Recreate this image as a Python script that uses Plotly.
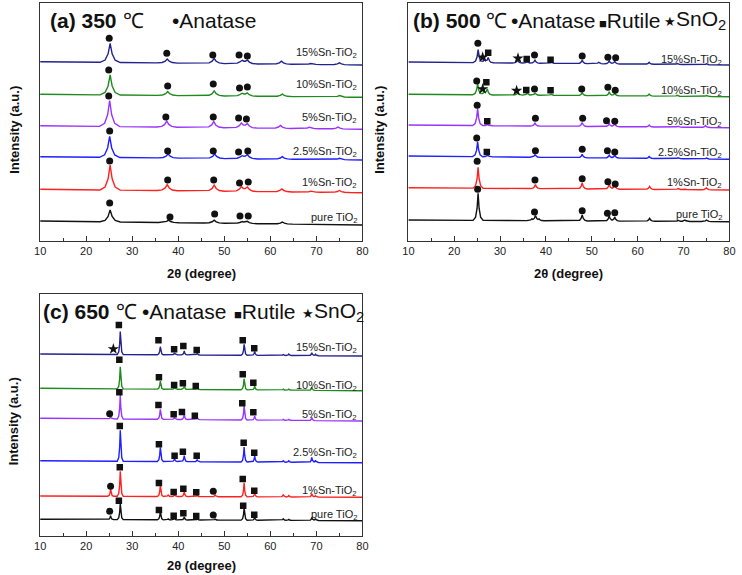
import numpy as np
import plotly.graph_objects as go

FONT = "Liberation Sans, Arial, sans-serif"

# ---------------- shared data ----------------
two_theta_range = [10, 80]
samples = ["15%Sn-TiO<sub>2</sub>", "10%Sn-TiO<sub>2</sub>", "5%Sn-TiO<sub>2</sub>",
           "2.5%Sn-TiO<sub>2</sub>", "1%Sn-TiO<sub>2</sub>", "pure TiO<sub>2</sub>"]
sample_colors = ["#23238f", "#1f8a1f", "#9933ff", "#1f1fff", "#ff2020", "#111111"]

# ---------------- (a) 350 C ----------------
a_base_start = [179.0, 146.4, 115.0, 84.0, 51.4, 19.7]
a_base_end = [175.7, 143.4, 111.4, 80.7, 48.0, 15.7]
a_peaks = [
    [(25.2, 19), (37.6, 4), (47.8, 5), (53.8, 3.5), (55.0, 3.5), (62.4, 3), (68.8, 1), (75.0, 2)],
    [(25.2, 20), (37.7, 4), (47.8, 5), (53.8, 3), (55.0, 3), (62.6, 2.5), (75.0, 1.5)],
    [(25.1, 26), (37.5, 6), (47.7, 6), (53.7, 4.5), (55.0, 4), (62.2, 3), (68.5, 1.5), (74.7, 2)],
    [(25.1, 21), (37.8, 4), (47.9, 4.5), (53.8, 3), (55.0, 4), (62.6, 2.5), (75.0, 1.5)],
    [(25.2, 25), (37.6, 6), (47.8, 6), (53.7, 4.5), (55.0, 4), (62.5, 3), (68.8, 1), (75.0, 2)],
    [(25.2, 12), (37.9, 2.5), (47.8, 3), (53.8, 2), (55.0, 2), (62.6, 2)],
]
a_circle_x = [25.0, 37.5, 47.5, 53.2, 55.0, 24.9, 37.7, 47.6, 53.3, 55.0,
              24.9, 37.3, 47.6, 53.1, 54.8, 25.1, 37.7, 47.6, 53.1, 55.1,
              25.1, 37.7, 47.7, 53.3, 55.2, 25.1, 38.2, 47.9, 53.4, 55.2]
a_circle_y = [202.4, 187.4, 185.7, 185.7, 184.7, 170.7, 154.7, 156.7, 152.7, 153.7,
              144.7, 123.7, 123.7, 122.7, 121.7, 109.7, 89.7, 89.7, 88.7, 89.7,
              79.7, 60.7, 60.7, 57.7, 58.7, 37.7, 23.7, 26.7, 24.7, 24.7]
a_label_y = [187.7, 155.7, 122.7, 88.7, 57.7, 22.7]

# ---------------- (b) 500 C ----------------
b_base_start = [178.7, 146.4, 115.7, 84.7, 53.0, 20.7]
b_base_end = [175.7, 144.0, 113.0, 81.4, 50.7, 19.0]
b_peaks = [
    [(25.2, 13), (26.6, 4), (27.4, 5), (33.8, 3), (35.9, 1.5), (37.6, 3), (41.2, 1), (47.9, 3.5),
     (51.5, 1.5), (53.8, 3), (55.0, 2.5), (62.5, 2), (68.6, 1), (75.0, 1)],
    [(25.1, 11), (26.5, 3), (27.2, 6), (33.8, 2), (35.9, 2), (37.6, 2), (41.1, 1), (47.9, 3),
     (53.8, 4), (55.0, 2.5), (62.5, 2), (68.6, 1), (75.0, 1)],
    [(25.1, 17), (27.3, 1), (37.6, 3), (47.9, 4), (53.8, 3), (55.0, 3), (62.5, 2), (68.8, 1), (74.8, 2)],
    [(25.1, 15), (27.3, 1.5), (37.6, 2.5), (47.9, 3.5), (53.8, 3), (55.0, 3), (62.5, 2), (68.8, 1), (75.0, 1)],
    [(25.2, 21), (37.7, 4), (47.9, 6), (53.8, 5), (55.0, 4), (62.6, 3), (68.8, 1), (70.2, 1), (75.0, 2)],
    [(25.2, 27), (36.9, 1.5), (37.7, 5), (38.5, 1.5), (47.9, 6), (53.8, 5), (55.0, 4), (62.6, 3),
     (68.8, 1), (70.3, 1.5), (75.0, 1.5)],
]
b_circle_x = [25.15, 37.5, 47.9, 53.5, 55.2, 24.9, 37.5, 47.8, 53.5, 55.1,
              25.0, 37.7, 48.0, 53.2, 55.0, 24.9, 37.7, 47.9, 53.4, 55.0,
              25.0, 37.6, 47.9, 53.5, 55.1, 25.1, 37.5, 47.9, 53.4, 55.0]
b_circle_y = [197.4, 185.7, 184.7, 183.4, 183.0, 159.7, 151.7, 151.7, 153.4, 150.4,
              135.4, 122.4, 122.4, 120.0, 119.4, 102.7, 90.0, 91.4, 90.0, 88.7,
              79.4, 60.7, 62.0, 59.0, 56.7, 51.4, 28.7, 30.0, 27.4, 28.0]
b_square_x = [27.4, 35.8, 41.0, 27.0, 35.7, 41.0, 27.2, 27.1]
b_square_y = [188.0, 181.7, 181.0, 158.4, 150.7, 150.4, 119.4, 88.7]
b_star_x = [26.2, 33.9, 26.2, 33.6]
b_star_y = [183.4, 182.4, 151.7, 150.0]
b_label_y = [180.7, 150.0, 119.0, 87.4, 57.4, 25.7]

# ---------------- (c) 650 C ----------------
c_base_start = [181.7, 147.4, 117.4, 75.0, 39.7, 16.4]
c_base_end = [179.7, 145.0, 114.7, 73.0, 38.4, 15.0]
c_peaks = [
    [(27.4, 23), (36.1, 8), (39.2, 2), (41.3, 4), (44.1, 1.5), (54.3, 11), (56.6, 4),
     (62.8, 1), (64.0, 1.5), (69.0, 3), (69.8, 1.5)],
    [(27.4, 22), (36.1, 8), (39.2, 2), (41.3, 3), (44.1, 1), (54.3, 11), (56.6, 4),
     (62.8, 1), (64.0, 1), (69.0, 3)],
    [(25.3, 2), (27.4, 24), (36.1, 10), (39.2, 2), (41.3, 5), (44.1, 1.5), (54.3, 14), (56.6, 4),
     (62.8, 1), (64.0, 1), (69.0, 3)],
    [(27.4, 31), (36.1, 14), (39.2, 3), (41.3, 6), (44.1, 2), (54.3, 15), (56.6, 6),
     (62.8, 1.5), (64.0, 1.5), (69.0, 5), (69.8, 2)],
    [(25.3, 7), (27.4, 25), (36.1, 11), (37.8, 1.5), (39.2, 2), (41.3, 5), (44.1, 1.5), (48.0, 2),
     (54.3, 14), (56.6, 4), (62.8, 2.5), (64.0, 1.5), (69.0, 3.5), (69.8, 1.5)],
    [(25.3, 4), (27.4, 16), (36.1, 8), (37.8, 1), (39.2, 1.5), (41.3, 3), (44.1, 1), (48.0, 1),
     (54.3, 12), (56.6, 3), (62.8, 1.5), (64.0, 1), (69.0, 3), (69.8, 2)],
]
c_square_x = [27.1, 35.7, 39.1, 41.1, 44.0, 54.0, 56.5,
              27.2, 35.8, 39.1, 41.0, 43.8, 54.0, 56.3,
              27.2, 35.7, 39.0, 40.8, 43.6, 53.9, 56.3,
              27.3, 35.8, 39.2, 41.0, 44.0, 54.2, 56.5,
              27.3, 35.8, 39.0, 41.1, 43.9, 54.0, 56.5,
              27.1, 35.8, 39.0, 41.1, 43.9, 54.1, 56.5]
c_square_y = [210.7, 195.4, 186.4, 189.7, 185.7, 195.4, 187.4,
              176.0, 158.4, 150.7, 152.4, 149.7, 161.4, 153.0,
              143.4, 130.7, 121.4, 123.7, 120.0, 132.4, 123.4,
              109.7, 91.4, 80.0, 84.0, 80.0, 93.0, 83.0,
              68.4, 52.7, 43.7, 47.0, 43.4, 56.7, 45.0,
              35.0, 25.7, 20.0, 22.4, 19.7, 30.0, 21.0]
c_circle_x = [25.1, 25.3, 47.6, 25.1, 47.6]
c_circle_y = [122.0, 49.4, 44.4, 24.4, 20.7]
c_star_x = [25.9]
c_star_y = [186.7]
c_label_y = [187.4, 149.7, 120.7, 82.4, 45.0, 20.7]

# ---------------- helpers ----------------
PROFILE_DX = np.array([-1.0, -0.5, -0.2, 0.0, 0.2, 0.5, 1.0])
PROFILE_F = np.array([0.0, 0.12, 0.45, 1.0, 0.45, 0.12, 0.0])


def pattern(peaks, b0, b1, w):
    xs = [10.0, 80.0]
    for p, h in peaks:
        xs += list(p + PROFILE_DX * w)
    xs = np.unique(np.clip(np.array(xs), 10, 80))
    y = b0 + (b1 - b0) * (xs - 10) / 70.0
    for p, h in peaks:
        y = y + h * np.interp(xs, p + PROFILE_DX * w, PROFILE_F, left=0, right=0)
    return xs, y


fig = go.Figure()

panels = [
    dict(ax="x", ay="y", bs=a_base_start, be=a_base_end, pk=a_peaks, w=2.2, ly=a_label_y, lx=79.3,
         circ=(a_circle_x, a_circle_y), sq=([], []), st=([], [])),
    dict(ax="x2", ay="y2", bs=b_base_start, be=b_base_end, pk=b_peaks, w=1.1, ly=b_label_y, lx=78.9,
         circ=(b_circle_x, b_circle_y), sq=(b_square_x, b_square_y), st=(b_star_x, b_star_y)),
    dict(ax="x3", ay="y3", bs=c_base_start, be=c_base_end, pk=c_peaks, w=0.65, ly=c_label_y, lx=79.3,
         circ=(c_circle_x, c_circle_y), sq=(c_square_x, c_square_y), st=(c_star_x, c_star_y)),
]

annotations = []
for P in panels:
    for i, name in enumerate(samples):
        xs, ys = pattern(P["pk"][i], P["bs"][i], P["be"][i], P["w"])
        fig.add_trace(go.Scatter(x=xs, y=ys, mode="lines", xaxis=P["ax"], yaxis=P["ay"],
                                 line=dict(color=sample_colors[i], width=1.4), name=name,
                                 hoverinfo="skip"))
        annotations.append(dict(x=P["lx"], y=P["ly"][i], xref=P["ax"], yref=P["ay"], text=name,
                                showarrow=False, xanchor="right", yanchor="middle",
                                font=dict(size=11, color="#222", family=FONT)))
    for (mx, my), sym, sz in [(P["circ"], "circle", 7), (P["sq"], "square", 6.5), (P["st"], "star", 8.5)]:
        if len(mx):
            fig.add_trace(go.Scatter(x=mx, y=my, mode="markers", xaxis=P["ax"], yaxis=P["ay"],
                                     marker=dict(symbol=sym, size=sz, color="#111", line=dict(width=0)),
                                     hoverinfo="skip"))

W, H = 742, 575


def px(x):
    return x / W


def py(y):
    return 1 - y / H


# titles (pieces)
TS = 21
small = "<span style='font-size:13px'>%s</span>"
title_pieces = [
    ("<b>(a) 350</b>", 43, 20), ("℃", 117, 20), ("•Anatase", 167, 20),
    ("<b>(b) 500</b>", 412, 20), ("℃", 486, 20), ("•Anatase", 511, 20),
    (small % "■" + "Rutile", 601, 20), (small % "★" + "SnO<sub>2</sub>", 667, 20),
    ("<b>(c) 650</b>", 36, 311.7), ("℃", 110, 311.7), ("•Anatase", 136, 311.7),
    (small % "■" + "Rutile", 230, 311.7), (small % "★" + "SnO<sub>2</sub>", 299, 311.7),
]
for t, x, y in title_pieces:
    annotations.append(dict(x=px(x), y=py(y), xref="paper", yref="paper", text=t, showarrow=False,
                            xanchor="left", yanchor="middle",
                            font=dict(size=TS, color="#111", family=FONT)))

for x, y in [(8, 130), (379, 130), (8, 421.5)]:
    annotations.append(dict(x=px(x), y=py(y), xref="paper", yref="paper", text="<b>Intensity (a.u.)</b>",
                            textangle=-90, showarrow=False, xanchor="center", yanchor="middle",
                            font=dict(size=13, color="#111", family=FONT)))
for x, y in [(198.5, 273), (572, 273), (198.5, 565)]:
    annotations.append(dict(x=px(x), y=py(y), xref="paper", yref="paper", text="<b>2θ (degree)</b>",
                            showarrow=False, xanchor="center", yanchor="middle",
                            font=dict(size=13, color="#111", family=FONT)))

xax = dict(range=two_theta_range, tickmode="linear", tick0=10, dtick=10, ticks="inside", ticklen=5,
           tickwidth=1, tickcolor="#333", showline=True, linecolor="#333", linewidth=1, mirror=True,
           showgrid=False, zeroline=False, tickfont=dict(size=11, color="#222", family=FONT),
           minor=dict(dtick=5, tick0=10, ticks="inside", ticklen=3, tickcolor="#333", showgrid=False))
yax = dict(showticklabels=False, ticks="", showline=True, linecolor="#333", linewidth=1, mirror=True,
           showgrid=False, zeroline=False)

fig.update_layout(
    width=W, height=H, margin=dict(l=0, r=0, t=0, b=0), paper_bgcolor="white", plot_bgcolor="white",
    showlegend=False, annotations=annotations,
    xaxis=dict(xax, domain=[px(34.7), px(362.3)], anchor="y"),
    yaxis=dict(yax, domain=[py(240.7), py(3)], range=[0, 237.7], anchor="x"),
    xaxis2=dict(xax, domain=[px(409), px(735.3)], anchor="y2"),
    yaxis2=dict(yax, domain=[py(240.7), py(3)], range=[0, 237.7], anchor="x2"),
    xaxis3=dict(xax, domain=[px(34.7), px(362.3)], anchor="y3"),
    yaxis3=dict(yax, domain=[py(535.7), py(294)], range=[0, 241.7], anchor="x3"),
)

fig.write_html("out.html", config={"displayModeBar": False},
               post_script="document.body.style.margin='0';document.body.style.padding='0';"
                           "document.documentElement.style.overflow='hidden';")
